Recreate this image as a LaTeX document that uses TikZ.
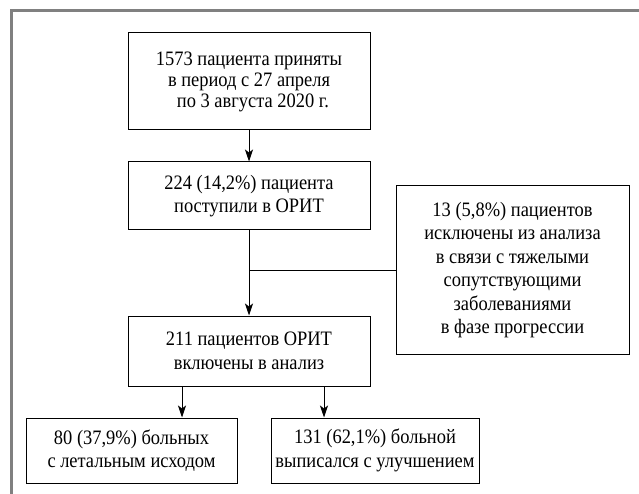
\documentclass[tikz,border=0pt]{standalone}
\usepackage{fontspec}
\setmainfont{Liberation Serif}[FakeStretch=0.9]
\usetikzlibrary{arrows.meta}
\begin{document}
\begin{tikzpicture}[x=1pt,y=-1pt,
  box/.style={draw, line width=1pt, align=center, inner sep=0pt,
    font=\fontsize{20.5}{23.5}\selectfont},
  arr/.style={line width=1pt, -{Stealth[length=12pt,width=8pt,inset=3pt]}},
  ln/.style={line width=1pt}]
\useasboundingbox (0,0) rectangle (639,494);
\draw[line width=3pt, color=gray] (11,494) -- (11,11) -- (639,11);
\node[box, minimum width=242pt, minimum height=97pt, font=\fontsize{20.5}{21}\selectfont] (b1) at (249,81.5)
  {1573 пациента приняты\\в период с 27 апреля\\\hspace{8pt}по 3 августа 2020 г.};
\node[box, minimum width=242pt, minimum height=68pt] (b2) at (249,196)
  {224 (14,2\%) пациента\\поступили в ОРИТ};
\node[box, minimum width=233pt, minimum height=168pt] (b3) at (512.5,270)
  {13 (5,8\%) пациентов\\исключены из анализа\\в связи с тяжелыми\\сопутствующими\\заболеваниями\\в фазе прогрессии};
\node[box, minimum width=242pt, minimum height=70pt] (b4) at (249,351)
  {211 пациентов ОРИТ\\включены в анализ};
\node[box, minimum width=211pt, minimum height=65pt] (b5) at (131.5,450.5)
  {80 (37,9\%) больных\\с летальным исходом};
\node[box, minimum width=208pt, minimum height=65pt] (b6) at (375,450.5)
  {131 (62,1\%) больной\\выписался с улучшением};
\coordinate (xa) at (182,0);
\coordinate (xb) at (324,0);
\draw[arr] (b1) -- (b2);
\draw[arr] (b2) -- (b4);
\draw[ln] (b3.west) -- (b3.west -| b2.south);
\draw[arr] (b4.south -| xa) -- (b5.north -| xa);
\draw[arr] (b4.south -| xb) -- (b6.north -| xb);
\end{tikzpicture}
\end{document}
